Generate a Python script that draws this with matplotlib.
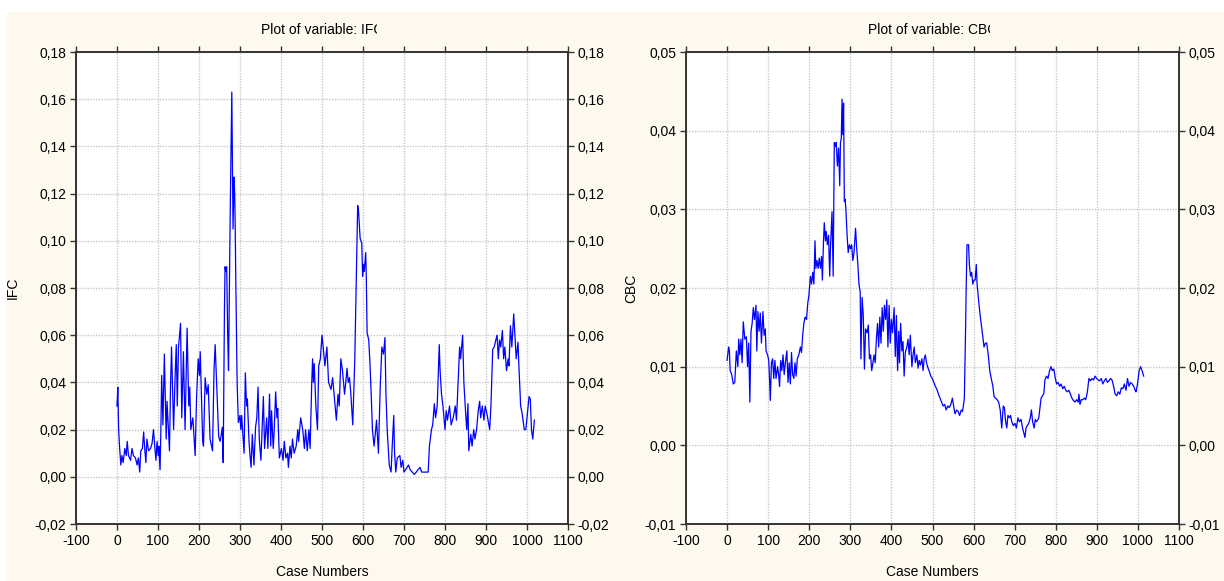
import numpy as np
import matplotlib
matplotlib.use("Agg")
import matplotlib.pyplot as plt
from matplotlib.patches import Rectangle
from matplotlib.transforms import Bbox, TransformedBbox
from matplotlib.ticker import FuncFormatter, MultipleLocator

plt.rcParams['font.family'] = ['Liberation Sans', 'DejaVu Sans']
plt.rcParams['axes.unicode_minus'] = False

# IFC series: case number, value
ifc_case = [0, 2, 4, 6.5, 9.4, 12, 15, 19, 22.5, 25, 28, 33, 36.6, 40, 45, 49, 52, 55.4, 58, 62,
            65, 67.6, 70.4, 73, 77, 81.7, 85.4, 89, 92, 95, 97.7, 100.5, 102, 105, 107, 109, 112,
            115.5, 120, 122, 128, 130.5, 133, 138, 142, 144.6, 147, 150, 155, 158, 162, 166, 171,
            175, 177.5, 180, 185, 190.6, 194, 198, 201, 203, 206.6, 209, 211, 215, 219, 222.5, 227,
            233, 236.6, 239.4, 243, 248, 251.6, 257, 259, 262, 263.5, 265.5, 267.5, 270, 272, 276,
            280, 283, 285.5, 287, 288, 290, 293, 296, 300, 302, 304, 310, 313, 316, 318, 322, 324,
            327, 330, 334, 338, 341, 344, 347, 351, 357, 360, 365, 368, 372, 375, 377, 381, 383,
            387, 390, 392, 396, 401, 405, 408, 412, 416, 418, 422, 425, 428, 432, 437, 441, 443,
            448, 453, 457, 460, 464, 468, 471, 475, 477, 479, 481, 485, 489, 492, 496, 500, 504,
            507, 512, 516, 522, 526, 529, 535, 539, 542, 546, 550, 555, 558, 561, 564, 567, 570,
            573, 575, 580, 582, 585, 587, 589, 590, 593, 597, 599, 601, 603, 606.6, 608, 610, 614,
            617, 620, 623, 627, 631, 633, 637.6, 642, 646, 650, 653.5, 656, 659, 664, 668.5, 671,
            675, 677, 680, 683.5, 690, 693, 697, 700, 704, 711, 715, 720, 725, 730, 734, 739, 743,
            753, 759, 762, 767, 770, 774, 777, 781, 786, 788, 791.5, 795, 800, 803, 806, 811, 815,
            820, 825, 828, 832, 835.7, 838, 843, 846, 850, 853, 856, 858, 863, 866, 870, 873, 877,
            881, 884.5, 887, 891, 895, 898, 903, 909, 912, 916.4, 920, 924, 927, 930, 933, 936,
            940, 943, 946, 950, 954, 956, 959.6, 963, 967.6, 973.7, 978, 980, 984.5, 988, 993.4,
            997, 1000, 1005, 1008, 1011, 1014, 1018]
ifc_val = [0.030, 0.038, 0.020, 0.012, 0.005, 0.009, 0.006, 0.012, 0.009, 0.015, 0.009, 0.007,
           0.012, 0.009, 0.008, 0.005, 0.008, 0.002, 0.011, 0.012, 0.019, 0.012, 0.006, 0.016,
           0.011, 0.012, 0.014, 0.020, 0.013, 0.007, 0.015, 0.009, 0.013, 0.003, 0.020, 0.043,
           0.022, 0.052, 0.016, 0.032, 0.011, 0.038, 0.055, 0.020, 0.044, 0.056, 0.030, 0.055,
           0.065, 0.025, 0.053, 0.020, 0.063, 0.030, 0.038, 0.020, 0.025, 0.009, 0.033, 0.050,
           0.043, 0.053, 0.030, 0.015, 0.013, 0.042, 0.035, 0.039, 0.016, 0.011, 0.045, 0.056,
           0.040, 0.017, 0.015, 0.021, 0.006, 0.070, 0.089, 0.087, 0.089, 0.060, 0.045, 0.110,
           0.163, 0.105, 0.127, 0.120, 0.110, 0.080, 0.040, 0.023, 0.026, 0.020, 0.026, 0.010,
           0.044, 0.030, 0.033, 0.015, 0.010, 0.004, 0.018, 0.005, 0.021, 0.025, 0.038, 0.016,
           0.007, 0.034, 0.012, 0.025, 0.012, 0.035, 0.013, 0.028, 0.012, 0.018, 0.036, 0.025,
           0.029, 0.008, 0.012, 0.007, 0.015, 0.008, 0.010, 0.004, 0.013, 0.008, 0.016, 0.010,
           0.013, 0.020, 0.015, 0.025, 0.020, 0.012, 0.020, 0.011, 0.020, 0.012, 0.040, 0.050,
           0.040, 0.048, 0.030, 0.020, 0.047, 0.050, 0.060, 0.053, 0.047, 0.055, 0.040, 0.037,
           0.042, 0.036, 0.024, 0.035, 0.030, 0.050, 0.045, 0.035, 0.040, 0.046, 0.040, 0.042,
           0.036, 0.028, 0.022, 0.050, 0.068, 0.095, 0.115, 0.113, 0.110, 0.101, 0.099, 0.085,
           0.090, 0.087, 0.095, 0.085, 0.061, 0.058, 0.048, 0.035, 0.020, 0.013, 0.020, 0.024,
           0.010, 0.038, 0.055, 0.052, 0.059, 0.035, 0.020, 0.005, 0.002, 0.012, 0.026, 0.010,
           0.002, 0.008, 0.009, 0.004, 0.007, 0.002, 0.003, 0.005, 0.003, 0.002, 0.001, 0.002,
           0.003, 0.004, 0.002, 0.002, 0.002, 0.013, 0.020, 0.022, 0.031, 0.025, 0.030, 0.056,
           0.045, 0.035, 0.030, 0.020, 0.028, 0.024, 0.030, 0.022, 0.025, 0.030, 0.024, 0.040,
           0.055, 0.050, 0.060, 0.040, 0.028, 0.020, 0.031, 0.011, 0.018, 0.013, 0.020, 0.016,
           0.020, 0.028, 0.032, 0.025, 0.030, 0.024, 0.030, 0.026, 0.020, 0.030, 0.054, 0.055,
           0.058, 0.060, 0.050, 0.058, 0.055, 0.062, 0.050, 0.055, 0.045, 0.050, 0.047, 0.064,
           0.055, 0.069, 0.050, 0.057, 0.048, 0.030, 0.027, 0.020, 0.020, 0.025, 0.034, 0.033,
           0.020, 0.016, 0.024]

# CBC series: case number, value
cbc_case = [0, 3.8, 5.6, 7.5, 11.3, 15, 18.8, 22.5, 26.3, 28.2, 31, 33.8, 36.6, 39.4, 43.2, 46.9,
            49.8, 52.6, 55.4, 58.2, 61, 63.8, 66.7, 70.4, 72.3, 75.1, 77.9, 80.8, 83.6, 87.3, 90.1,
            93, 94.8, 98.6, 101.4, 103.3, 105.2, 108, 110.8, 113.6, 116.4, 119.2, 123, 125.8, 127.7,
            130.5, 133.3, 136.2, 139, 141.8, 145.5, 148.4, 151.2, 154, 156.8, 159.6, 162.4, 165.3,
            168, 170.9, 174.6, 178.4, 181.2, 184, 186.9, 189.7, 193.4, 196.2, 199, 202.8, 205.6,
            208.5, 211.3, 214, 216, 218.8, 221.6, 224.4, 227.2, 230, 232, 234.7, 236.6, 239.4,
            241.3, 244, 247, 249.8, 251.6, 255.4, 258.2, 261, 263.8, 265.7, 268.5, 271.4, 274.2,
            276, 278, 279.8, 281.7, 283.6, 285.4, 287.3, 289.2, 292, 294.8, 297.7, 300.5, 303.3,
            306, 309, 312.7, 315.5, 318.3, 321, 324, 325.8, 328.6, 331.5, 334.3, 337, 340.8, 343.7,
            346.5, 349.3, 352, 355, 357.7, 360.6, 363.4, 366.2, 369, 371.8, 374.6, 377.5, 380.3,
            383, 386, 388.7, 391.5, 394.4, 397.2, 400, 402.8, 406.6, 409.4, 412.2, 415, 417.8,
            419.7, 422.5, 425.4, 428.2, 431, 433.8, 437.6, 440.4, 443.2, 446, 449.8, 452.6, 455.4,
            458.2, 462, 464.8, 467.6, 470.4, 474.2, 477, 479.8, 482.6, 485.4, 489.2, 493, 495.8,
            499.5, 503.3, 507, 510.8, 514.6, 518.3, 522, 525.8, 529.6, 533.3, 537, 540.8, 544.6,
            548.4, 552, 555, 558.7, 562.4, 566, 570, 572.8, 574.6, 577.5, 580.3, 582, 584, 587.8,
            589.7, 592.5, 595.3, 598, 601, 603.8, 606.6, 608.5, 610.3, 613, 616, 619.7, 622.5,
            625.4, 629, 632, 635.7, 639.4, 643, 647, 649.8, 653.5, 657.3, 661, 664.8, 668.5, 672.3,
            675, 678, 680.8, 683.6, 687.3, 690, 693, 696.7, 700.5, 704.2, 708, 711.7, 715.5, 719.2,
            723, 725, 727.7, 730.5, 734.3, 738, 740.8, 743.7, 747.4, 750.2, 753, 756, 758.7, 761.5,
            764.3, 768, 771, 773.7, 777.5, 781.2, 785, 788.7, 791.5, 795.3, 799, 802, 805.6, 809.4,
            813, 817, 820.7, 824.4, 828, 832, 835.7, 839.4, 843, 847, 850.7, 854.5, 856.3, 859,
            862, 865.7, 869.5, 873, 877, 880.8, 884.5, 888.3, 892, 895.8, 899.5, 903.3, 907, 910.8,
            914.6, 918.3, 922, 925.8, 929.6, 933.3, 937, 940.8, 944.6, 948.4, 952, 955.9, 959.6,
            963.4, 967, 971, 974.6, 978.4, 982, 986, 989.7, 993.4, 995.3, 999, 1003, 1006.6, 1010,
            1014]
cbc_val = [0.0108, 0.0125, 0.0120, 0.0095, 0.0090, 0.0078, 0.0080, 0.0120, 0.0100, 0.0135,
           0.0115, 0.0135, 0.0105, 0.0157, 0.0135, 0.0138, 0.0100, 0.0130, 0.0055, 0.0145,
           0.0155, 0.0175, 0.0160, 0.0178, 0.0120, 0.0170, 0.0145, 0.0168, 0.0130, 0.0170,
           0.0140, 0.0148, 0.0120, 0.0115, 0.0108, 0.0085, 0.0057, 0.0105, 0.0110, 0.0085,
           0.0108, 0.0085, 0.0100, 0.0088, 0.0075, 0.0108, 0.0095, 0.0115, 0.0090, 0.0105,
           0.0120, 0.0080, 0.0105, 0.0078, 0.0118, 0.0090, 0.0085, 0.0105, 0.0088, 0.0110,
           0.0115, 0.0125, 0.0118, 0.0140, 0.0155, 0.0163, 0.0160, 0.0180, 0.0190, 0.0215,
           0.0205, 0.0220, 0.0205, 0.0260, 0.0225, 0.0235, 0.0225, 0.0238, 0.0225, 0.0240,
           0.0210, 0.0260, 0.0283, 0.0260, 0.0272, 0.0255, 0.0267, 0.0215, 0.0250, 0.0297,
           0.0215, 0.0385, 0.0380, 0.0385, 0.0355, 0.0378, 0.0330, 0.0385, 0.0390, 0.0440,
           0.0395, 0.0435, 0.0310, 0.0313, 0.0300, 0.0268, 0.0245, 0.0255, 0.0250, 0.0255,
           0.0235, 0.0245, 0.0276, 0.0250, 0.0230, 0.0205, 0.0195, 0.0110, 0.0188, 0.0165,
           0.0097, 0.0148, 0.0143, 0.0153, 0.0110, 0.0115, 0.0095, 0.0105, 0.0115, 0.0105,
           0.0135, 0.0155, 0.0125, 0.0163, 0.0130, 0.0175, 0.0145, 0.0178, 0.0160, 0.0185,
           0.0125, 0.0178, 0.0130, 0.0160, 0.0143, 0.0175, 0.0113, 0.0165, 0.0095, 0.0145,
           0.0105, 0.0155, 0.0120, 0.0132, 0.0088, 0.0118, 0.0125, 0.0135, 0.0115, 0.0140,
           0.0100, 0.0115, 0.0125, 0.0105, 0.0115, 0.0098, 0.0108, 0.0102, 0.0110, 0.0095,
           0.0110, 0.0115, 0.0105, 0.0098, 0.0093, 0.0088, 0.0085, 0.0080, 0.0075, 0.0071,
           0.0065, 0.0060, 0.0055, 0.0050, 0.0052, 0.0045, 0.0050, 0.0048, 0.0052, 0.0060,
           0.0048, 0.0040, 0.0045, 0.0043, 0.0038, 0.0045, 0.0043, 0.0048, 0.0060, 0.0140,
           0.0200, 0.0255, 0.0255, 0.0230, 0.0215, 0.0220, 0.0205, 0.0210, 0.0210, 0.0230,
           0.0205, 0.0195, 0.0180, 0.0165, 0.0150, 0.0138, 0.0125, 0.0130, 0.0130, 0.0115,
           0.0095, 0.0085, 0.0075, 0.0062, 0.0060, 0.0058, 0.0055, 0.0045, 0.0022, 0.0050,
           0.0048, 0.0030, 0.0022, 0.0038, 0.0035, 0.0038, 0.0030, 0.0025, 0.0028, 0.0022,
           0.0035, 0.0030, 0.0033, 0.0022, 0.0014, 0.0010, 0.0022, 0.0025, 0.0028, 0.0035,
           0.0045, 0.0030, 0.0022, 0.0033, 0.0030, 0.0032, 0.0035, 0.0048, 0.0060, 0.0063,
           0.0066, 0.0083, 0.0088, 0.0085, 0.0095, 0.0100, 0.0095, 0.0097, 0.0085, 0.0078,
           0.0080, 0.0075, 0.0078, 0.0072, 0.0075, 0.0070, 0.0068, 0.0070, 0.0065, 0.0060,
           0.0057, 0.0055, 0.0058, 0.0055, 0.0065, 0.0052, 0.0058, 0.0058, 0.0060, 0.0058,
           0.0068, 0.0085, 0.0082, 0.0085, 0.0083, 0.0088, 0.0085, 0.0083, 0.0082, 0.0085,
           0.0078, 0.0082, 0.0085, 0.0080, 0.0082, 0.0085, 0.0083, 0.0075, 0.0065, 0.0063,
           0.0068, 0.0065, 0.0073, 0.0072, 0.0078, 0.0070, 0.0085, 0.0075, 0.0080, 0.0078,
           0.0075, 0.0070, 0.0068, 0.0078, 0.0095, 0.0100, 0.0095, 0.0088]

x_ticks = list(range(-100, 1101, 100))

panels = [
    dict(name="IFC", x=ifc_case, y=ifc_val, ylim=(-0.02, 0.18), step=0.02,
         rect=(76, 52, 568, 524), ylab_x=14, clip=55),
    dict(name="CBC", x=cbc_case, y=cbc_val, ylim=(-0.01, 0.05), step=0.01,
         rect=(686, 52, 1179, 524), ylab_x=632, clip=57),
]

W, H = 1224, 581
fig = plt.figure(figsize=(W / 100, H / 100), dpi=100, facecolor="white")
fig.patches.append(Rectangle((7 / W, 0), 1 - 7 / W, 1 - 12 / H, transform=fig.transFigure,
                             facecolor="#fdf9ee", edgecolor="none", zorder=-10))

comma = FuncFormatter(lambda v, p: f"{v:.2f}".replace(".", ",").replace("-0,00", "0,00"))
fs = 10

for p in panels:
    x0, y0, x1, y1 = p["rect"]
    ax = fig.add_axes([x0 / W, 1 - y1 / H, (x1 - x0) / W, (y1 - y0) / H])
    ax.plot(p["x"], p["y"], color="#0000ff", lw=0.9)
    ax.set_xlim(-100, 1100)
    ax.set_ylim(*p["ylim"])
    ax.set_xticks(x_ticks)
    ax.yaxis.set_major_locator(MultipleLocator(p["step"]))
    ax.yaxis.set_major_formatter(comma)
    ax.grid(True, color="#c8c8c8", ls=(0, (1, 1)), lw=1.0)
    ax.tick_params(direction="out", length=4, width=1, color="#333333", labelsize=fs,
                   top=True, right=True, labelright=True, pad=3)
    for s in ax.spines.values():
        s.set_linewidth(1.4)
        s.set_color("#333333")
    ax.set_ylabel(p["name"], fontsize=fs)
    ax.yaxis.set_label_coords((p["ylab_x"] + 6 - x0) / (x1 - x0), 0.5)
    ax.set_xlabel("Case Numbers", fontsize=fs)
    ax.xaxis.set_label_coords(0.5, -(565 - y1) / (y1 - y0))

    cx = (x0 + x1) / 2
    t = fig.text(cx / W, 1 - 30 / H, f"Plot of variable: {p['name']}", ha="center",
                 va="center", fontsize=fs)
    clip = TransformedBbox(Bbox([[0, 0], [(cx + p["clip"]) / W, 1]]), fig.transFigure)
    t.set_clip_box(clip)
    t.set_clip_on(True)

fig.savefig("out.png", dpi=100, facecolor=fig.get_facecolor())
